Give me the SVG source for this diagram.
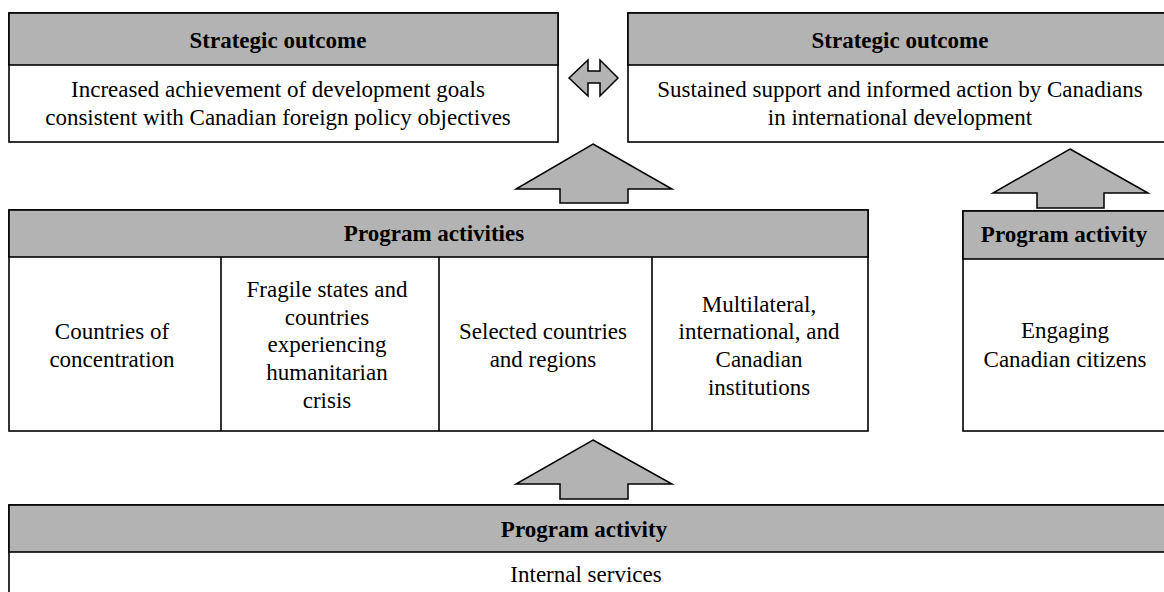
<svg xmlns="http://www.w3.org/2000/svg" width="1164" height="592" viewBox="0 0 1164 592">
<style>
.box{fill:#ffffff;stroke:#000;stroke-width:1.6}
.hdr{fill:#b3b3b3;stroke:#000;stroke-width:1.6}
.arr{fill:#b3b3b3;stroke:#000;stroke-width:1.5;stroke-linejoin:miter}
.line{stroke:#000;stroke-width:1.6}
text{font-family:"Liberation Serif","Times New Roman",serif;font-size:23px;fill:#000;text-anchor:middle}
.b{font-weight:bold}
</style>
<rect width="1164" height="592" fill="#fff"/>
<g id="connectors">
<polygon class="arr" points="569,78 588,60 588,71 600,71 600,60 618,78 600,96 600,83 588,83 588,96"/>
<polygon class="arr" points="593,144 672,189 628,189 628,203 560,203 560,189 516,189"/>
<polygon class="arr" points="1070,149 1148,193 1104,193 1104,208 1037,208 1037,193 993,193"/>
<polygon class="arr" points="593,440 672,484 628,484 628,499 560,499 560,484 516,484"/>
</g>
<g id="outcome1">
<rect class="box" x="9" y="13" width="549" height="129"/>
<rect class="hdr" x="9" y="13" width="549" height="52"/>
<text class="b" x="278" y="48">Strategic outcome</text>
<text x="278" y="97">Increased achievement of development goals</text>
<text x="278" y="125">consistent with Canadian foreign policy objectives</text>
</g>
<g id="outcome2">
<rect class="box" x="628" y="13" width="545" height="129"/>
<rect class="hdr" x="628" y="13" width="545" height="52"/>
<text class="b" x="900" y="48">Strategic outcome</text>
<text x="900" y="97">Sustained support and informed action by Canadians</text>
<text x="900" y="125">in international development</text>
</g>
<g id="program-activities">
<rect class="box" x="9" y="210" width="859" height="221"/>
<rect class="hdr" x="9" y="210" width="859" height="47"/>
<line class="line" x1="221" y1="257" x2="221" y2="431"/>
<line class="line" x1="439" y1="257" x2="439" y2="431"/>
<line class="line" x1="652" y1="257" x2="652" y2="431"/>
<text class="b" x="434" y="241">Program activities</text>
<g id="pa-countries">
<text x="112" y="339">Countries of</text>
<text x="112" y="367">concentration</text>
</g>
<g id="pa-fragile">
<text x="327" y="297">Fragile states and</text>
<text x="327" y="325">countries</text>
<text x="327" y="352">experiencing</text>
<text x="327" y="380">humanitarian</text>
<text x="327" y="408">crisis</text>
</g>
<g id="pa-selected">
<text x="543" y="339">Selected countries</text>
<text x="543" y="367">and regions</text>
</g>
<g id="pa-multilateral">
<text x="759" y="312">Multilateral,</text>
<text x="759" y="339">international, and</text>
<text x="759" y="367">Canadian</text>
<text x="759" y="395">institutions</text>
</g>
</g>
<g id="program-activity-engaging">
<rect class="box" x="963" y="211" width="210" height="220"/>
<rect class="hdr" x="963" y="211" width="210" height="48"/>
<text class="b" x="1064" y="242">Program activity</text>
<text x="1065" y="338">Engaging</text>
<text x="1065" y="367">Canadian citizens</text>
</g>
<g id="program-activity-internal">
<rect class="box" x="9" y="505" width="1170" height="100"/>
<rect class="hdr" x="9" y="505" width="1170" height="47"/>
<text class="b" x="584" y="537">Program activity</text>
<text x="586" y="582">Internal services</text>
</g>
</svg>
